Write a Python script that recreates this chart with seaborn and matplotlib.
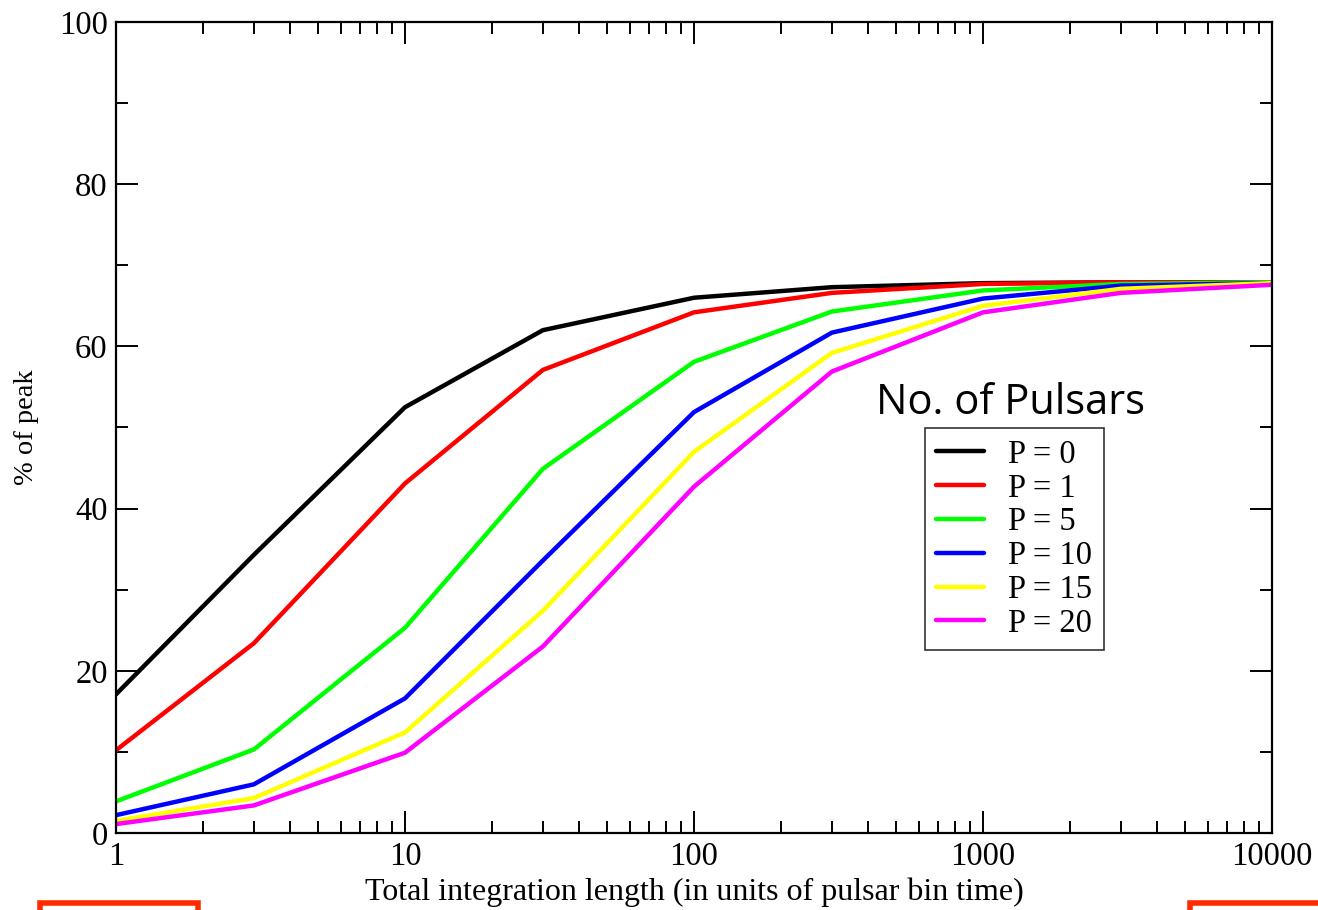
import numpy as np
import pandas as pd
import matplotlib
matplotlib.use("Agg")
import matplotlib.pyplot as plt
from matplotlib.ticker import LogLocator, FixedLocator, NullFormatter, FuncFormatter
from matplotlib.lines import Line2D
import seaborn as sns

# ---- data ----
lengths = [1, 3, 10, 30, 100, 300, 1000, 3000, 10000]
p0  = [17.1, 34.3, 52.5, 62.0, 66.0, 67.3, 67.8, 67.9, 67.9]
p1  = [10.2, 23.4, 43.1, 57.1, 64.2, 66.6, 67.7, 67.9, 67.9]
p5  = [3.9, 10.3, 25.3, 44.9, 58.1, 64.3, 66.9, 67.7, 67.9]
p10 = [2.2, 6.0, 16.6, 33.6, 51.9, 61.7, 65.9, 67.5, 67.8]
p15 = [1.5, 4.3, 12.4, 27.4, 47.0, 59.2, 65.0, 67.1, 67.8]
p20 = [1.1, 3.4, 9.9, 23.0, 42.7, 56.9, 64.2, 66.6, 67.6]
series_labels = ["P = 0", "P = 1", "P = 5", "P = 10", "P = 15", "P = 20"]
series_values = [p0, p1, p5, p10, p15, p20]
colors = ["#000000", "#ff0000", "#00ff00", "#0000ff", "#ffff00", "#ff00ff"]

rows = []
for lab, vals in zip(series_labels, series_values):
    for x, y in zip(lengths, vals):
        rows.append({"length": x, "pct": y, "series": lab})
df = pd.DataFrame(rows)

sns.set_theme(style="ticks")
plt.rcParams["font.family"] = ["Liberation Serif", "DejaVu Serif"]
plt.rcParams["text.color"] = "black"
plt.rcParams["axes.labelcolor"] = "black"
plt.rcParams["xtick.color"] = "black"
plt.rcParams["ytick.color"] = "black"

fig = plt.figure(figsize=(13.18, 9.10), dpi=100)
ax = fig.add_axes([116/1318, 1-833/910, (1272-116)/1318, (833-22)/910])

palette = dict(zip(series_labels, colors))
sns.lineplot(data=df, x="length", y="pct", hue="series", hue_order=series_labels,
             palette=palette, linewidth=3.2, ax=ax, legend=False, sort=False,
             estimator=None)

ax.set_xscale("log")
ax.set_xlim(1, 10000)
ax.set_ylim(0, 100)

ax.xaxis.set_major_locator(FixedLocator([1, 10, 100, 1000, 10000]))
ax.xaxis.set_major_formatter(FuncFormatter(lambda v, p: f"{int(round(v))}"))
ax.xaxis.set_minor_locator(LogLocator(base=10, subs=np.arange(2, 10), numticks=20))
ax.xaxis.set_minor_formatter(NullFormatter())
ax.yaxis.set_major_locator(FixedLocator([0, 20, 40, 60, 80, 100]))
ax.yaxis.set_minor_locator(FixedLocator([10, 30, 50, 70, 90]))

ax.tick_params(which="both", direction="in", top=True, right=True, width=1.4,
               colors="black", labelcolor="black", labelsize=23.5, pad=6)
ax.tick_params(which="major", length=16)
ax.tick_params(which="minor", length=8.5)
for s in ax.spines.values():
    s.set_linewidth(1.6)
    s.set_color("black")

ax.set_xlabel("Total integration length (in units of pulsar bin time)", fontsize=23, labelpad=4,
              color="black")
ax.set_ylabel("% of peak", fontsize=20.5, labelpad=14, color="black")

handles = [Line2D([0], [0], color=c, lw=3.2) for c in colors]
leg = ax.legend(handles, series_labels, loc="upper left",
                bbox_to_anchor=((925-116)/1156, (833-428)/811),
                fontsize=23.5, frameon=True, fancybox=False, edgecolor="black",
                handlelength=1.45, handletextpad=0.75, labelspacing=0.1,
                borderpad=0.35, borderaxespad=0)
leg.get_frame().set_linewidth(1.2)
for t in leg.get_texts():
    t.set_color("black")

fig.text(1010/1318, 1-403/910, "No. of Pulsars", fontsize=30, family=["Open Sans", "DejaVu Sans"],
         ha="center", va="center", color="black")

# red bracket marks at the bottom edge
red = "#ff2a00"
brackets = [([40, 40, 198, 198], [910, 903, 903, 910]),
            ([1190, 1190, 1318], [910, 903, 903])]
for xp, yp in brackets:
    fig.add_artist(Line2D([x/1318 for x in xp], [1-y/910 for y in yp],
                          color=red, lw=4, transform=fig.transFigure,
                          solid_joinstyle="miter"))

fig.savefig("out.png", dpi=100, facecolor="white")
